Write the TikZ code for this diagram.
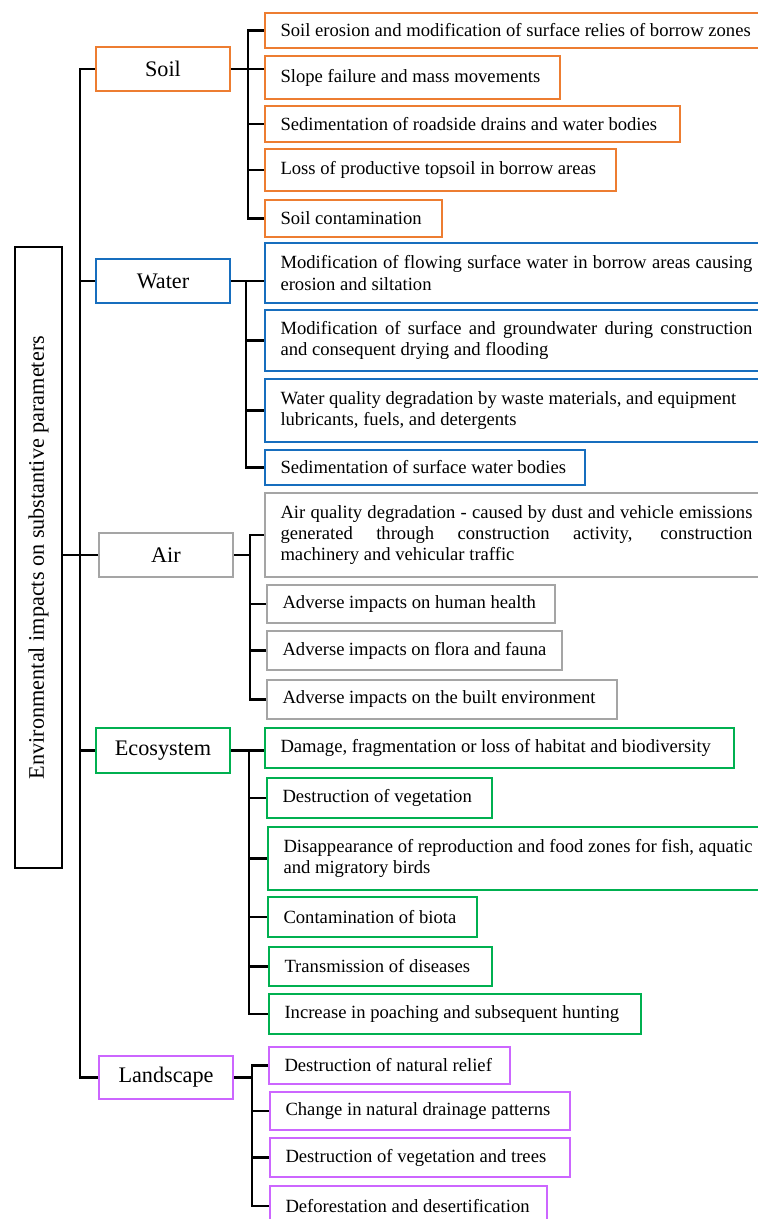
\documentclass[tikz,border=0pt]{standalone}
\usepackage{fontspec}
\setmainfont{Liberation Serif}
\usepackage{graphicx}
\definecolor{cSoil}{RGB}{237,125,49}
\definecolor{cWater}{RGB}{23,110,190}
\definecolor{cAir}{RGB}{165,165,165}
\definecolor{cEco}{RGB}{0,176,80}
\definecolor{cLand}{RGB}{204,102,255}
\newcommand\itemfont{\fontsize{18.7}{21.5}\selectfont}
\newcommand\catfont{\fontsize{22.3}{26}\selectfont}
\tikzset{
  itembox/.style={line width=2.4bp, inner xsep=15.5bp, inner ysep=1bp},
  catbox/.style={line width=2.4bp, inner sep=1bp, font=\catfont},
  conn/.style={line width=2.5bp, draw=black, line join=miter},
}
\newcommand\itm[7]{%
 \pgfmathsetlengthmacro\myBW{(#4-#2)*1bp}%
 \pgfmathsetlengthmacro\myBH{(#5-#3)*1bp}%
 \pgfmathsetlengthmacro\myTW{(#4-#2-31)*1bp}%
 \node[itembox, draw=#6, minimum width=\myBW, minimum height=\myBH] (#1) at ({(#2+#4)/2},{(#3+#5)/2})
   {\parbox{\myTW}{\itemfont\hyphenpenalty=10000\exhyphenpenalty=10000 #7}};}
\newcommand\cat[7]{%
 \pgfmathsetlengthmacro\myBW{(#4-#2)*1bp}%
 \pgfmathsetlengthmacro\myBH{(#5-#3)*1bp}%
 \node[catbox, draw=#6, minimum width=\myBW, minimum height=\myBH] (#1) at ({(#2+#4)/2},{(#3+#5)/2}) {#7};}
\begin{document}
\begin{tikzpicture}[x=1bp,y=-1bp]
\useasboundingbox (0,0) rectangle (758,1219);
% root
\node[draw, line width=2.5bp, minimum width=47bp, minimum height=621bp, inner sep=0pt] (root) at (38.5,557.5)
  {\rotatebox{90}{\catfont Environmental impacts on substantive parameters}};
% categories
\cat{soil}{96}{47}{230}{91}{cSoil}{Soil}
\cat{water}{96}{259}{230}{303}{cWater}{Water}
\cat{air}{99}{533}{233}{577}{cAir}{Air}
\cat{eco}{96}{728}{230}{773}{cEco}{Ecosystem}
\cat{land}{99}{1056}{233}{1099}{cLand}{Landscape}
% soil items
\itm{s1}{265}{13}{768}{48}{cSoil}{Soil erosion and modification of surface relies of borrow zones}
\itm{s2}{265}{56}{560}{99}{cSoil}{Slope failure and mass movements}
\itm{s3}{265}{106}{680}{142}{cSoil}{Sedimentation of roadside drains and water bodies}
\itm{s4}{265}{149}{616}{191}{cSoil}{Loss of productive topsoil in borrow areas}
\itm{s5}{265}{200}{442}{237}{cSoil}{Soil contamination}
% water items
\itm{w1}{265}{243}{768}{303}{cWater}{Modification of flowing surface water in borrow areas causing\linebreak erosion and siltation}
\itm{w2}{265}{310}{768}{371}{cWater}{Modification of surface and groundwater during construction\linebreak and consequent drying and flooding}
\itm{w3}{265}{379}{768}{442}{cWater}{Water quality degradation by waste materials, and equipment\\ lubricants, fuels, and detergents}
\itm{w4}{265}{450}{585}{485}{cWater}{Sedimentation of surface water bodies}
% air items
\itm{a1}{265}{493}{768}{577}{cAir}{Air quality degradation - caused by dust and vehicle emissions\linebreak generated through construction activity, construction\linebreak machinery and vehicular traffic}
\itm{a2}{267}{585}{555}{623}{cAir}{Adverse impacts on human health}
\itm{a3}{267}{631}{562}{670}{cAir}{Adverse impacts on flora and fauna}
\itm{a4}{267}{680}{617}{719}{cAir}{Adverse impacts on the built environment}
% eco items
\itm{e1}{265}{728}{734}{768}{cEco}{Damage, fragmentation or loss of habitat and biodiversity}
\itm{e2}{267}{778}{492}{818}{cEco}{Destruction of vegetation}
\itm{e3}{268}{827}{768}{890}{cEco}{Disappearance of reproduction and food zones for fish, aquatic\\ and migratory birds}
\itm{e4}{268}{897}{477}{937}{cEco}{Contamination of biota}
\itm{e5}{269}{947}{492}{986}{cEco}{Transmission of diseases}
\itm{e6}{269}{994}{641}{1034}{cEco}{Increase in poaching and subsequent hunting}
% landscape items
\itm{l1}{269}{1047}{510}{1084}{cLand}{Destruction of natural relief}
\itm{l2}{270}{1092}{570}{1130}{cLand}{Change in natural drainage patterns}
\itm{l3}{270}{1138}{570}{1177}{cLand}{Destruction of vegetation and trees}
\itm{l4}{270}{1186}{547}{1226}{cLand}{Deforestation and desertification}
% spine
\coordinate (sp) at (80,0);
\draw[conn] (soil.west) -| (sp |- land.west) -- (land.west);
\draw[conn] (water.west) -- (sp |- water.west);
\draw[conn] (eco.west) -- (sp |- eco.west);
\draw[conn] (root.east |- air.west) -- (air.west);
% soil bracket
\coordinate (bs) at (248,0);
\draw[conn] (soil.east) -- (s2.west |- soil.east);
\draw[conn] (s1.west) -- (bs |- s1.west) -- (bs |- s5.west) -- (s5.west);
\foreach \n in {s3,s4} \draw[conn] (\n.west) -- (bs |- \n.west);
% water bracket
\coordinate (bw) at (246,0);
\draw[conn] (water.east) -- (w1.west |- water.east);
\draw[conn] (bw |- water.east) -- (bw |- w4.west) -- (w4.west);
\foreach \n in {w2,w3} \draw[conn] (\n.west) -- (bw |- \n.west);
% air bracket
\coordinate (ba) at (250,0);
\draw[conn] (air.east) -- (ba |- air.east);
\draw[conn] (a1.west) -- (ba |- a1.west) -- (ba |- a4.west) -- (a4.west);
\foreach \n in {a2,a3} \draw[conn] (\n.west) -- (ba |- \n.west);
% eco bracket
\coordinate (be) at (249,0);
\draw[conn] (eco.east) -- (e1.west |- eco.east);
\draw[conn] (be |- eco.east) -- (be |- e6.west) -- (e6.west);
\foreach \n in {e2,e3,e4,e5} \draw[conn] (\n.west) -- (be |- \n.west);
% landscape bracket
\coordinate (bl) at (252,0);
\draw[conn] (land.east) -- (bl |- land.east);
\draw[conn] (l1.west) -- (bl |- l1.west) -- (bl |- l4.west) -- (l4.west);
\foreach \n in {l2,l3} \draw[conn] (\n.west) -- (bl |- \n.west);
\end{tikzpicture}
\end{document}
